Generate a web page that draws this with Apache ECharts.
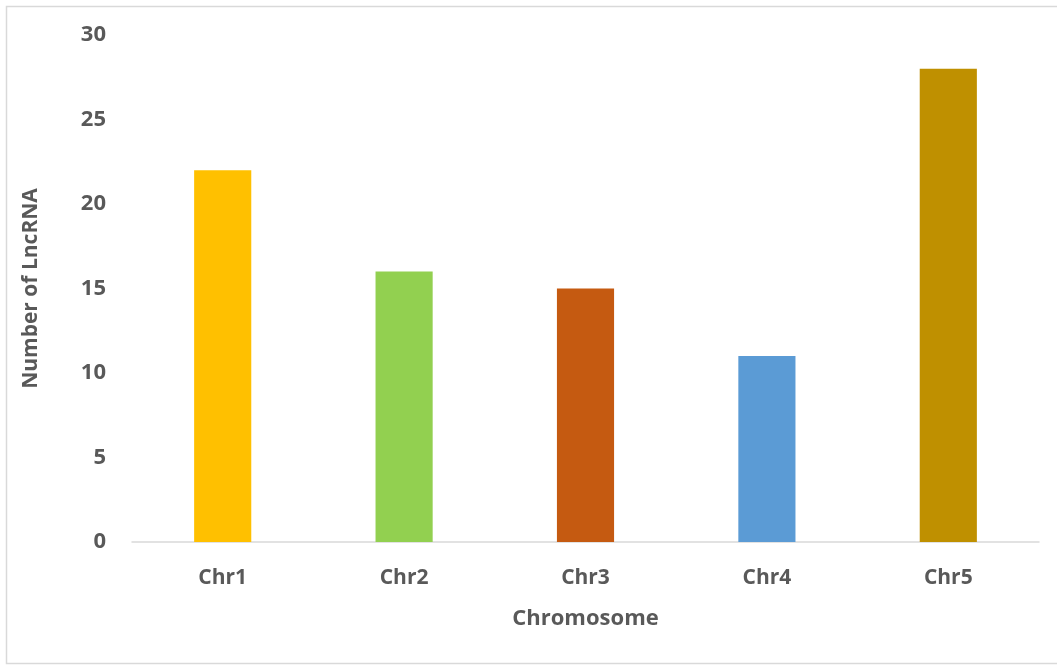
<!DOCTYPE html>
<html>
<head>
<meta charset="utf-8">
<script src="https://cdn.jsdelivr.net/npm/echarts@6/dist/echarts.min.js"></script>
<style>
  html, body { margin: 0; padding: 0; background: #fff; }
  #chart { width: 1057px; height: 665px; }
</style>
</head>
<body>
<div id="chart"></div>
<script>
// LncRNA counts per chromosome
const categories = ['Chr1', 'Chr2', 'Chr3', 'Chr4', 'Chr5'];
const lncCounts = [22, 16, 15, 11, 28];
const barColors = ['#FFC000', '#92D050', '#C55A11', '#5B9BD5', '#BF9000'];
const yTicks = { min: 0, max: 30, interval: 5 };

const textColor = '#595959';
const fontFamily = '"Open Sans", "Noto Sans", sans-serif';

const chart = echarts.init(document.getElementById('chart'), null, { renderer: 'canvas' });
chart.setOption({
  backgroundColor: '#fff',
  animation: false,
  graphic: [{
    type: 'polyline',
    shape: { points: [[1057, 6.5], [6.5, 6.5], [6.5, 663.5], [1057, 663.5]] },
    style: { stroke: '#D9D9D9', lineWidth: 1.5, fill: null },
    silent: true
  }],
  grid: { left: 132, right: 18, top: 35, bottom: 123 },
  xAxis: {
    type: 'category',
    data: categories,
    name: 'Chromosome',
    nameLocation: 'middle',
    nameGap: 66,
    nameTextStyle: { color: textColor, fontSize: 22, fontWeight: 'bold', fontFamily },
    axisLine: { lineStyle: { color: '#D9D9D9', width: 1.5 } },
    axisTick: { show: false },
    axisLabel: { color: textColor, fontSize: 21, fontWeight: 'bold', fontFamily, margin: 26 }
  },
  yAxis: {
    type: 'value',
    min: yTicks.min,
    max: yTicks.max,
    interval: yTicks.interval,
    name: 'Number of LncRNA',
    nameLocation: 'middle',
    nameGap: 90,
    nameTextStyle: { color: textColor, fontSize: 21, fontWeight: 'bold', fontFamily },
    axisLine: { show: false },
    axisTick: { show: false },
    splitLine: { show: false },
    axisLabel: { color: textColor, fontSize: 22, fontWeight: 'bold', fontFamily, margin: 26 }
  },
  series: [{
    type: 'bar',
    data: lncCounts.map((v, i) => ({ value: v, itemStyle: { color: barColors[i] } })),
    barWidth: '31.5%'
  }]
});
</script>
</body>
</html>
